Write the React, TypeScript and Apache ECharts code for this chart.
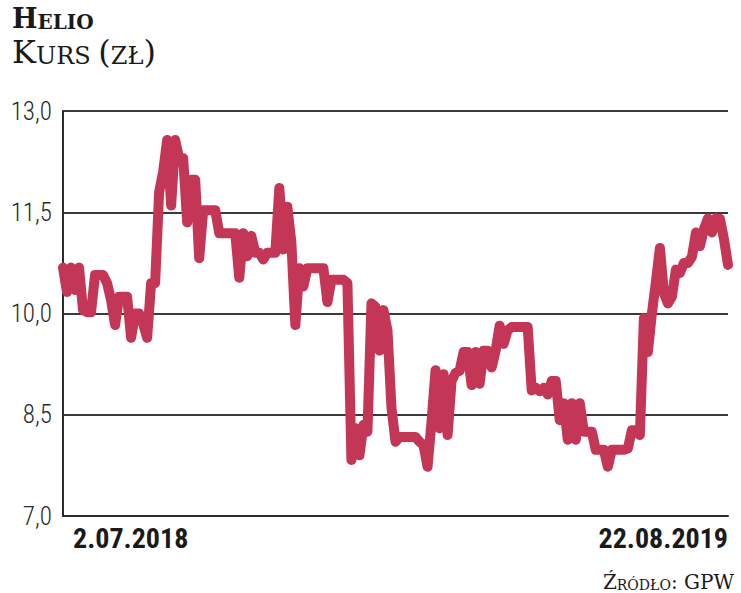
import React, { useEffect, useRef } from 'react';
import * as echarts from 'echarts';

// Helio share price (zł), one point every ~4 px
const prices = [
  10.68, 10.32, 10.68, 10.35, 10.68, 10.05, 10.02, 10.02, 10.57, 10.57,
  10.57, 10.45, 10.2, 9.83, 10.25, 10.25, 10.25, 9.64, 10.0, 10.0,
  9.85, 9.64, 10.45, 10.45, 11.8, 12.1, 12.57, 11.6, 12.57, 12.3,
  12.3, 11.35, 11.98, 11.98, 10.82, 11.53, 11.53, 11.53, 11.53, 11.19,
  11.19, 11.19, 11.19, 11.19, 10.53, 11.19, 10.85, 11.15, 10.9, 10.9,
  10.8, 10.9, 10.9, 10.9, 11.86, 10.95, 11.58, 11.06, 9.83, 10.67,
  10.4, 10.67, 10.67, 10.67, 10.67, 10.67, 10.17, 10.5, 10.5, 10.5,
  10.5, 10.45, 7.83, 8.3, 7.9, 8.35, 8.25, 10.15, 10.1, 9.45,
  10.05, 9.75, 8.6, 8.1, 8.17, 8.17, 8.17, 8.17, 8.17, 8.1,
  8.05, 7.73, 8.4, 9.16, 8.3, 9.1, 8.2, 9.0, 9.12, 9.15,
  9.43, 9.43, 8.94, 9.43, 8.96, 9.45, 9.45, 9.2, 9.45, 9.82,
  9.55, 9.75, 9.8, 9.8, 9.8, 9.8, 9.8, 8.86, 8.9, 8.85,
  8.9, 8.8, 9.0, 9.0, 8.42, 8.67, 8.13, 8.67, 8.13, 8.67,
  8.25, 8.25, 8.25, 7.98, 7.98, 7.98, 7.73, 7.98, 7.98, 7.98,
  7.98, 8.0, 8.27, 8.27, 8.2, 9.93, 9.43, 10.0, 10.47, 10.97,
  10.3, 10.15, 10.25, 10.65, 10.6, 10.75, 10.75, 10.84, 11.2, 11.0,
  11.25, 11.41, 11.2, 11.41, 11.4, 11.1, 10.72,
];
const xEndLabels = ['2.07.2018', '22.08.2019'];
const yTicks = [7, 8.5, 10, 11.5, 13];

const serif = '"DejaVu Serif", serif';

const App: React.FC = () => {
  const chartRef = useRef<HTMLDivElement | null>(null);

  useEffect(() => {
    document.body.style.margin = '0';
    const chart = echarts.init(chartRef.current!, null, { renderer: 'svg' });
    const last = prices.length - 1;

    const option = {
      animation: false,
      backgroundColor: '#fff',
      grid: { left: 63, right: 13, top: 111, bottom: 77 },
      graphic: [
        {
          type: 'text',
          left: 12,
          top: 5,
          style: {
            text: '{a|H}{b|ELIO}',
            rich: {
              a: { font: `bold 27px ${serif}`, fill: '#1a1a1a', verticalAlign: 'bottom' },
              b: { font: `bold 20px ${serif}`, fill: '#1a1a1a', verticalAlign: 'bottom' },
            },
          },
        },
        {
          type: 'text',
          left: 12,
          top: 36,
          style: {
            text: '{a|K}{b|URS }{a|(}{b|ZŁ}{a|)}',
            rich: {
              a: { font: `32px ${serif}`, fill: '#1a1a1a', verticalAlign: 'bottom' },
              b: { font: `24px ${serif}`, fill: '#1a1a1a', verticalAlign: 'bottom' },
            },
          },
        },
        {
          type: 'text',
          right: 7,
          top: 572,
          style: {
            text: '{a|Ź}{b|RÓDŁO}{a|: GPW}',
            rich: {
              a: { font: `20px ${serif}`, fill: '#1a1a1a', verticalAlign: 'bottom' },
              b: { font: `14px ${serif}`, fill: '#1a1a1a', verticalAlign: 'bottom' },
            },
          },
        },
      ],
      xAxis: {
        type: 'category',
        boundaryGap: false,
        data: prices.map((_, i) => i),
        axisLine: { show: true, lineStyle: { color: '#2b2b2b', width: 2 } },
        axisTick: { show: false },
        splitLine: { show: false },
        axisLabel: {
          interval: (i: number) => i === 0 || i === last,
          formatter: (_: string, i: number) => (i === 0 ? xEndLabels[0] : i === last ? xEndLabels[1] : ''),
          alignMinLabel: 'left',
          alignMaxLabel: 'right',
          margin: 8,
          fontFamily: 'Roboto Condensed',
          fontWeight: 'bold',
          fontSize: 28,
          color: '#1a1a1a',
          padding: [0, 0, 0, 10],
        },
      },
      yAxis: {
        type: 'value',
        min: yTicks[0],
        max: yTicks[yTicks.length - 1],
        interval: yTicks[1] - yTicks[0],
        axisLine: { show: true, lineStyle: { color: '#2b2b2b', width: 2 } },
        axisTick: { show: false },
        splitLine: { show: true, lineStyle: { color: '#3a3a3a', width: 2 } },
        axisLabel: {
          margin: 11,
          fontFamily: 'Roboto Condensed',
          fontWeight: 300,
          fontSize: 25,
          color: '#2a2a2a',
          formatter: (v: number) => v.toFixed(1).replace('.', ','),
        },
      },
      series: [
        {
          type: 'line',
          data: prices,
          symbol: 'none',
          lineStyle: { color: '#c43656', width: 10, cap: 'round', join: 'round' },
        },
      ],
    };

    chart.setOption(option);
    return () => {
      chart.dispose();
    };
  }, []);

  return <div ref={chartRef} style={{ width: '741px', height: '593px' }} />;
};

export default App;
